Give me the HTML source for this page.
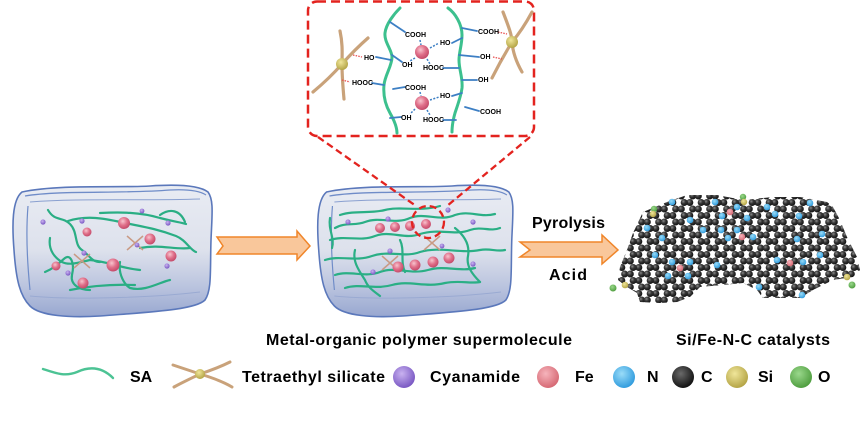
<!DOCTYPE html>
<html><head><meta charset="utf-8"><style>
html,body{margin:0;padding:0;background:#fff;}
svg{display:block;}
text{font-family:"Liberation Sans",Arial,sans-serif;font-weight:bold;fill:#000;}
</style></head><body>
<svg width="865" height="421" viewBox="0 0 865 421" xmlns="http://www.w3.org/2000/svg">
<defs>
 <linearGradient id="bg" x1="0" y1="0" x2="0" y2="1">
  <stop offset="0" stop-color="#e9ecf3"/>
  <stop offset="0.5" stop-color="#dde1ec"/>
  <stop offset="0.78" stop-color="#b9c3de"/>
  <stop offset="1" stop-color="#98a7d0"/>
 </linearGradient>
 <radialGradient id="pk" cx="0.4" cy="0.35" r="0.7"><stop offset="0" stop-color="#f8c4ce"/><stop offset="0.5" stop-color="#e0708a"/><stop offset="1" stop-color="#c04565"/></radialGradient>
 <radialGradient id="pu" cx="0.4" cy="0.35" r="0.7"><stop offset="0" stop-color="#c9b2f0"/><stop offset="1" stop-color="#7452c0"/></radialGradient>
 <radialGradient id="si" cx="0.4" cy="0.35" r="0.7"><stop offset="0" stop-color="#f0e69a"/><stop offset="1" stop-color="#b0a040"/></radialGradient>
 <radialGradient id="fe" cx="0.4" cy="0.35" r="0.7"><stop offset="0" stop-color="#f6b4bc"/><stop offset="1" stop-color="#d4646f"/></radialGradient>
 <radialGradient id="nn" cx="0.4" cy="0.35" r="0.7"><stop offset="0" stop-color="#9adcf8"/><stop offset="1" stop-color="#2a98dc"/></radialGradient>
 <radialGradient id="cc" cx="0.4" cy="0.35" r="0.7"><stop offset="0" stop-color="#6a6a6a"/><stop offset="1" stop-color="#0c0c0c"/></radialGradient>
 <radialGradient id="oo" cx="0.4" cy="0.35" r="0.7"><stop offset="0" stop-color="#9ad88c"/><stop offset="1" stop-color="#4a9a3a"/></radialGradient>
 <radialGradient id="cg" cx="0.38" cy="0.35" r="0.65"><stop offset="0" stop-color="#8a8a8a"/><stop offset="0.45" stop-color="#383838"/><stop offset="1" stop-color="#111"/></radialGradient>
 <pattern id="lat" patternUnits="userSpaceOnUse" width="17" height="13" patternTransform="translate(636,196)">
  <line x1="5.67" y1="0" x2="11.33" y2="0" stroke="#555" stroke-width="1.5"/>
  <line x1="5.67" y1="13" x2="11.33" y2="13" stroke="#555" stroke-width="1.5"/>
  <line x1="14.17" y1="6.5" x2="17" y2="6.5" stroke="#555" stroke-width="1.5"/>
  <line x1="0" y1="6.5" x2="2.83" y2="6.5" stroke="#555" stroke-width="1.5"/>
  <circle cx="5.67" cy="0" r="3.5" fill="url(#cg)"/>
  <circle cx="11.33" cy="0" r="3.5" fill="url(#cg)"/>
  <circle cx="5.67" cy="13" r="3.5" fill="url(#cg)"/>
  <circle cx="11.33" cy="13" r="3.5" fill="url(#cg)"/>
  <circle cx="2.83" cy="6.5" r="3.5" fill="url(#cg)"/>
  <circle cx="14.17" cy="6.5" r="3.5" fill="url(#cg)"/>
  <circle cx="19.83" cy="6.5" r="3.5" fill="url(#cg)"/>
  <circle cx="-2.83" cy="6.5" r="3.5" fill="url(#cg)"/>
 </pattern>
 <g id="shell">
  <path d="M22,192 C60,184 120,188 150,186 C180,184 200,186 208,192 C214,200 212,215 211,240 C210,270 212,290 205,300 C195,310 150,312 100,316 C70,318 40,316 30,306 C20,296 16,280 14,250 C12,225 12,200 22,192 Z" fill="url(#bg)" stroke="#5b78bb" stroke-width="1.6"/>
  <path d="M25,196 C60,190 120,194 170,190 C190,189 200,191 206,195" fill="none" stroke="#6f8cc8" stroke-width="1.3"/>
  <path d="M30,202 C80,198 140,201 200,199" fill="none" stroke="#8aa0d0" stroke-width="1"/>
  <path d="M28,206 C26,230 27,260 30,290" fill="none" stroke="#6f8cc8" stroke-width="1.2"/>
  <path d="M30,296 C70,300 150,298 200,292" fill="none" stroke="#9aaad2" stroke-width="1"/>
 </g>
</defs>
<rect width="865" height="421" fill="#fff"/>

<!-- left block -->
<use href="#shell"/>
<g fill="none" stroke="#2aae84" stroke-width="2.2" stroke-linecap="round">
 <path d="M48,210 C55,222 62,216 70,224 C78,232 74,245 82,250 C90,256 92,262 100,262"/>
 <path d="M68,221 C90,214 110,220 130,224 C150,228 160,230 176,236 C186,240 190,250 196,252"/>
 <path d="M100,213 C120,212 140,212 160,218 C175,222 180,222 186,224"/>
 <path d="M50,238 C48,250 55,258 62,262 C70,266 80,262 90,260 C110,262 120,268 140,270"/>
 <path d="M45,272 C55,268 60,262 65,258 C70,254 75,262 72,275 C70,285 80,290 90,290"/>
 <path d="M120,262 C118,275 125,285 130,288 C145,292 160,282 170,280"/>
 <path d="M70,290 C90,286 110,284 135,285"/>
 <path d="M140,248 C160,244 175,250 190,248"/>
 <path d="M160,215 C170,208 180,210 185,222"/>
</g>
<g stroke="#c99a84" stroke-width="1.5">
 <path d="M74,254 L90,268 M74,268 L90,254"/>
 <path d="M127,236 L143,250 M127,250 L143,236"/>
</g>
<g fill="url(#pk)">
 <circle cx="124" cy="223" r="6"/><circle cx="87" cy="232" r="4.5"/><circle cx="150" cy="239" r="5.5"/>
 <circle cx="171" cy="256" r="5.5"/><circle cx="113" cy="265" r="6.5"/><circle cx="56" cy="266" r="4.5"/><circle cx="83" cy="283" r="5.5"/>
</g>
<g fill="url(#pu)">
 <circle cx="43" cy="222" r="2.6"/><circle cx="82" cy="221" r="2.6"/><circle cx="168" cy="223" r="2.6"/><circle cx="84" cy="253" r="2.6"/>
 <circle cx="68" cy="273" r="2.6"/><circle cx="167" cy="266" r="2.6"/><circle cx="142" cy="211" r="2.4"/><circle cx="137" cy="245" r="2.4"/>
</g>

<!-- arrow 1 -->
<path d="M217,237 L297,237 L297,231 L310,246 L297,260 L297,254 L217,254 L223,246 Z" fill="#f9c79b" stroke="#f0862a" stroke-width="1.5"/>

<!-- middle block -->
<use href="#shell" transform="translate(305,0) scale(0.98,1)"/>
<g fill="none" stroke="#2aaf85" stroke-width="2.2" stroke-linecap="round">
 <path d="M335,228 C345,222 355,226 365,222 C380,216 395,225 410,218 C425,212 440,222 455,215 C470,210 480,218 495,214"/>
 <path d="M330,240 C345,235 360,242 375,236 C390,230 405,240 420,234 C440,228 455,236 470,230 C482,226 490,232 500,228"/>
 <path d="M340,215 C355,210 370,214 385,210 C400,206 420,212 440,206"/>
 <path d="M325,260 C340,255 355,262 372,256 C390,250 405,258 420,252 C440,246 460,254 480,250 C490,248 497,252 505,250"/>
 <path d="M335,275 C350,270 365,278 380,272 C395,266 410,275 428,270 C445,265 460,272 475,268"/>
 <path d="M345,288 C360,283 375,290 392,285 C410,280 425,288 445,283 C460,280 470,284 480,282"/>
 <path d="M355,250 C352,262 360,272 365,280 C368,288 375,292 380,296"/>
 <path d="M455,228 C465,236 470,245 468,256 C466,266 472,274 480,282"/>
 <path d="M400,240 C405,250 400,262 405,272"/>
 <path d="M330,218 C328,230 335,238 332,248"/>
</g>
<g stroke="#c99a84" stroke-width="1.5">
 <path d="M382,256 L398,270 M382,270 L398,256"/>
 <path d="M424,236 L440,250 M424,250 L440,236"/>
</g>
<g fill="url(#pk)">
 <circle cx="380" cy="228" r="5"/><circle cx="395" cy="227" r="5"/><circle cx="410" cy="226" r="5"/><circle cx="426" cy="224" r="5"/>
 <circle cx="398" cy="267" r="5.5"/><circle cx="415" cy="265" r="5.5"/><circle cx="433" cy="262" r="5.5"/><circle cx="449" cy="258" r="5.5"/>
</g>
<g fill="url(#pu)">
 <circle cx="348" cy="222" r="2.6"/><circle cx="388" cy="219" r="2.6"/><circle cx="448" cy="210" r="2.6"/><circle cx="473" cy="222" r="2.6"/>
 <circle cx="390" cy="251" r="2.6"/><circle cx="373" cy="272" r="2.6"/><circle cx="473" cy="264" r="2.6"/><circle cx="442" cy="246" r="2.4"/>
</g>

<!-- zoom connectors -->
<g fill="none" stroke="#e3231f" stroke-width="2.3" stroke-dasharray="7 4">
 <path d="M318,137 L416,206"/>
 <path d="M530,137 L447,206"/>
 <circle cx="428" cy="222" r="16"/>
</g>

<!-- inset -->
<rect x="308" y="1.5" width="226" height="134.5" rx="9" fill="#fff" stroke="#e3231f" stroke-width="2.5" stroke-dasharray="9 5"/>
<g fill="none" stroke="#c9a27a" stroke-width="3.2" stroke-linecap="round">
 <path d="M340,31 C343,45 342,55 342,64 C342,75 343,88 344,99"/>
 <path d="M313,92 C325,82 335,72 342,64 C350,55 360,45 368,38"/>
 <path d="M503,12 C508,25 512,35 512,42 C513,55 518,65 522,72"/>
 <path d="M532,12 C525,25 518,35 512,42 C504,55 497,68 492,78"/>
</g>
<g fill="none" stroke="#3cc08e" stroke-width="3" stroke-linecap="round">
 <path d="M400,8 C394,14 386,24 385,33 C384,42 392,50 392,57 C392,66 385,75 384,85 C383,96 386,106 390,113 C394,120 397,127 397,133"/>
 <path d="M448,8 C455,13 462,24 462,35 C462,45 459,52 459,60 C459,70 463,78 462,88 C461,96 458,104 455,113 C453,120 452,126 452,132"/>
</g>
<g fill="none" stroke="#3d7fc4" stroke-width="1.8" stroke-linecap="round">
 <path d="M390,22 L405,32"/><path d="M392,55 L402,62"/><path d="M372,83 L384,85"/><path d="M376,57 L391,60"/>
 <path d="M393,89 L405,87"/><path d="M390,118 L401,117"/>
 <path d="M452,43 L462,38"/><path d="M443,68 L459,68"/><path d="M462,28 L477,31"/><path d="M459,55 L479,57"/>
 <path d="M462,80 L477,80"/><path d="M452,96 L462,93"/><path d="M443,120 L456,120"/><path d="M465,107 L479,111"/>
</g>
<g fill="none" stroke="#3d7fc4" stroke-width="1.5" stroke-dasharray="2 1.5">
 <path d="M420,40 L421,45"/><path d="M430,48 L439,43"/><path d="M415,58 L410,61"/><path d="M427,59 L430,64"/>
 <path d="M420,92 L421,96"/><path d="M430,100 L439,97"/><path d="M415,109 L410,114"/><path d="M427,110 L430,115"/>
</g>
<g fill="none" stroke="#e85050" stroke-width="1.3" stroke-dasharray="1.5 1.2">
 <path d="M353,55 L362,57"/><path d="M342,80 L350,82"/><path d="M498,32 L507,34"/><path d="M493,57 L502,59"/>
</g>
<circle cx="422" cy="52" r="7" fill="url(#pk)"/>
<circle cx="422" cy="103" r="7" fill="url(#pk)"/>
<circle cx="342" cy="64" r="6" fill="url(#si)"/>
<circle cx="512" cy="42" r="6" fill="url(#si)"/>
<g style="font-size:7px" fill="#222">
 <text x="405" y="37">COOH</text><text x="440" y="45">HO</text><text x="402" y="67">OH</text><text x="423" y="70">HOOC</text>
 <text x="478" y="34">COOH</text><text x="480" y="59">OH</text><text x="478" y="82">OH</text>
 <text x="405" y="90">COOH</text><text x="440" y="98">HO</text><text x="401" y="120">OH</text><text x="423" y="122">HOOC</text>
 <text x="480" y="114">COOH</text><text x="364" y="60">HO</text><text x="352" y="85">HOOC</text>
</g>

<!-- arrow 2 -->
<path d="M520,242 L602,242 L602,235 L618,250 L602,264 L602,257 L520,257 L530,250 Z" fill="#f9c79b" stroke="#f0862a" stroke-width="1.5"/>
<text x="532" y="228" style="font-size:16px" textLength="73" lengthAdjust="spacing">Pyrolysis</text>
<text x="549" y="280" style="font-size:16px" textLength="38" lengthAdjust="spacing">Acid</text>

<!-- graphene -->
<polygon points="643,212 667,202 687,195 717,195 743,200 773,197 800,197 827,202 833,207 840,220 847,237 857,257 860,270 853,277 833,280 813,290 800,298 787,298 763,298 757,290 743,283 723,285 700,287 690,297 677,302 660,303 640,302 637,293 627,287 618,280 620,267 627,250 633,233" fill="url(#lat)"/>
<g fill="url(#nn)">
 <circle cx="672" cy="202" r="3.3"/><circle cx="715" cy="202" r="3.3"/><circle cx="737" cy="207" r="3.3"/><circle cx="767" cy="207" r="3.3"/>
 <circle cx="810" cy="203" r="3.3"/><circle cx="690" cy="220" r="3.3"/><circle cx="722" cy="216" r="3.3"/><circle cx="747" cy="218" r="3.3"/>
 <circle cx="775" cy="214" r="3.3"/><circle cx="799" cy="216" r="3.3"/><circle cx="647" cy="228" r="3.3"/><circle cx="703" cy="230" r="3.3"/>
 <circle cx="721" cy="230" r="3.3"/><circle cx="737" cy="230" r="3.3"/><circle cx="753" cy="237" r="3.3"/><circle cx="662" cy="238" r="3.3"/>
 <circle cx="728" cy="238" r="3.3"/><circle cx="797" cy="239" r="3.3"/><circle cx="822" cy="234" r="3.3"/><circle cx="655" cy="255" r="3.3"/>
 <circle cx="672" cy="262" r="3.3"/><circle cx="690" cy="262" r="3.3"/><circle cx="717" cy="265" r="3.3"/><circle cx="668" cy="276" r="3.3"/>
 <circle cx="688" cy="276" r="3.3"/><circle cx="777" cy="260" r="3.3"/><circle cx="803" cy="262" r="3.3"/><circle cx="820" cy="255" r="3.3"/>
 <circle cx="759" cy="287" r="3.3"/><circle cx="802" cy="295" r="3.3"/>
</g>
<g fill="url(#fe)">
 <circle cx="730" cy="212" r="3.3"/><circle cx="742" cy="237" r="3.3"/><circle cx="680" cy="268" r="3.3"/><circle cx="790" cy="263" r="3.3"/>
</g>
<circle cx="743" cy="197" r="3.2" fill="url(#oo)"/><circle cx="744" cy="202" r="3.2" fill="url(#si)"/>
<circle cx="654" cy="209" r="3.2" fill="url(#oo)"/><circle cx="653" cy="214" r="3.2" fill="url(#si)"/>
<circle cx="625" cy="285" r="3.3" fill="url(#si)"/><circle cx="613" cy="288" r="3.5" fill="url(#oo)"/>
<circle cx="847" cy="277" r="3.3" fill="url(#si)"/><circle cx="852" cy="285" r="3.5" fill="url(#oo)"/>

<!-- captions -->
<text x="266" y="345" style="font-size:16px" textLength="306" lengthAdjust="spacing">Metal-organic polymer supermolecule</text>
<text x="676" y="345" style="font-size:16px" textLength="154" lengthAdjust="spacing">Si/Fe-N-C catalysts</text>

<!-- legend -->
<path d="M43,369 C55,373 65,377 77,372 C90,366 102,367 113,378" fill="none" stroke="#4cc394" stroke-width="2.4" stroke-linecap="round"/>
<text x="130" y="382" style="font-size:16px">SA</text>
<g fill="none" stroke="#c9a27a" stroke-width="3" stroke-linecap="round">
 <path d="M173,365 C185,369 194,372 200,374 C210,377 222,381 232,387"/>
 <path d="M174,387 C185,381 194,377 200,374 C212,370 222,366 230,362"/>
</g>
<circle cx="200" cy="374" r="5" fill="url(#si)"/>
<text x="242" y="382" style="font-size:16px" textLength="143" lengthAdjust="spacing">Tetraethyl silicate</text>
<circle cx="404" cy="377" r="11" fill="url(#pu)"/>
<text x="430" y="382" style="font-size:16px" textLength="90" lengthAdjust="spacing">Cyanamide</text>
<circle cx="548" cy="377" r="11" fill="url(#fe)"/>
<text x="575" y="382" style="font-size:16px">Fe</text>
<circle cx="624" cy="377" r="11" fill="url(#nn)"/>
<text x="647" y="382" style="font-size:16px">N</text>
<circle cx="683" cy="377" r="11" fill="url(#cc)"/>
<text x="701" y="382" style="font-size:16px">C</text>
<circle cx="737" cy="377" r="11" fill="url(#si)"/>
<text x="758" y="382" style="font-size:16px">Si</text>
<circle cx="801" cy="377" r="11" fill="url(#oo)"/>
<text x="818" y="382" style="font-size:16px">O</text>
</svg>
</body></html>
